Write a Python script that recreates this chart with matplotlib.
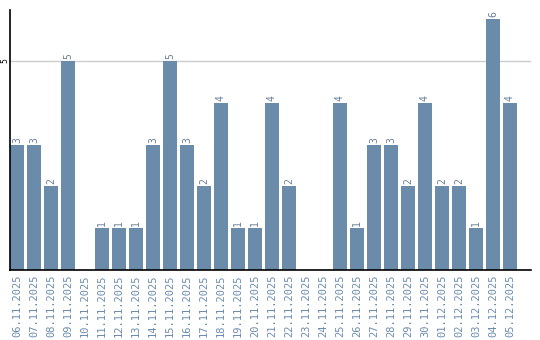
import numpy as np
import matplotlib.pyplot as plt

dates = ["06.11.2025", "07.11.2025", "08.11.2025", "09.11.2025", "10.11.2025",
         "11.11.2025", "12.11.2025", "13.11.2025", "14.11.2025", "15.11.2025",
         "16.11.2025", "17.11.2025", "18.11.2025", "19.11.2025", "20.11.2025",
         "21.11.2025", "22.11.2025", "23.11.2025", "24.11.2025", "25.11.2025",
         "26.11.2025", "27.11.2025", "28.11.2025", "29.11.2025", "30.11.2025",
         "01.12.2025", "02.12.2025", "03.12.2025", "04.12.2025", "05.12.2025"]
counts = [3, 3, 2, 5, 0, 1, 1, 1, 3, 5, 3, 2, 4, 1, 1, 4, 2, 0, 0, 4,
          1, 3, 3, 2, 4, 2, 2, 1, 6, 4]

BAR_COLOR = "#6b8bab"
TEXT_COLOR = "#6a8caf"

fig = plt.figure(figsize=(5.4, 3.4), dpi=100)
ax = fig.add_axes([10 / 540, 70 / 340, 521 / 540, 260 / 340])

x = np.arange(len(dates))
ax.bar(x, counts, width=0.82, color=BAR_COLOR, zorder=2)
ax.axhline(5, color="#cccccc", linewidth=1, zorder=1)

# value labels above each non-empty bar
for xi, v in zip(x, counts):
    if v > 0:
        ax.text(xi, v + 0.05, str(v), rotation=90, ha="center", va="bottom",
                fontsize=7, color="#6a7f95", family="DejaVu Sans Mono")

ax.set_xlim(-0.41, 30.24)
ax.set_ylim(0, 6.22)
ax.set_xticks(x)
ax.set_xticklabels(dates, rotation=90, fontsize=7.5, color=TEXT_COLOR,
                   family="DejaVu Sans Mono")
ax.set_yticks([5])
ax.set_yticklabels(["5"], rotation=90, fontsize=5.5, va="center")
ax.tick_params(axis="x", length=0, pad=3)
ax.tick_params(axis="y", length=0, pad=0.8)

for side in ["top", "right"]:
    ax.spines[side].set_visible(False)
ax.spines["left"].set_linewidth(1.2)
ax.spines["bottom"].set_linewidth(1.2)

fig.savefig("out.png", dpi=100)
